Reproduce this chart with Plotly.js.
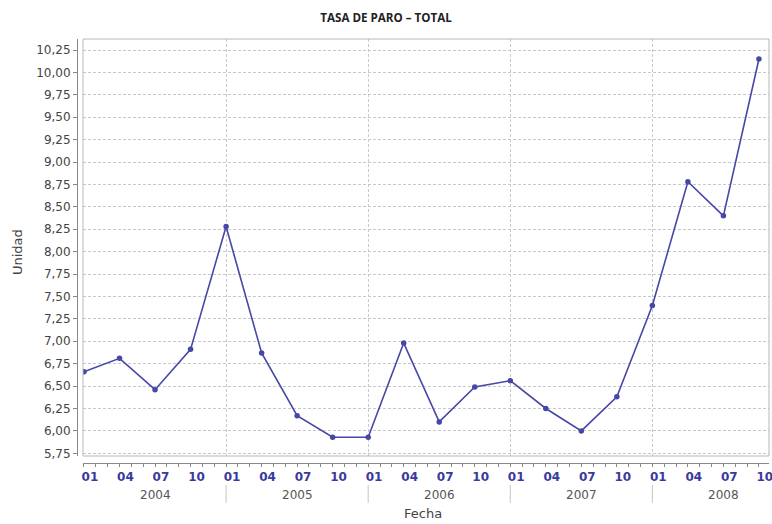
<!DOCTYPE html>
<html>
<head>
<meta charset="utf-8">
<script src="https://cdn.plot.ly/plotly-3.0.1.min.js"></script>
<style>html,body{margin:0;padding:0;background:#fff;}#chart{width:772px;height:524px;}</style>
</head>
<body>
<div id="chart"></div>
<script>
// ---- data ----
var years = ['2004', '2005', '2006', '2007', '2008'];
var quarterMonths = ['01', '04', '07', '10'];
var tasaParo = [6.66, 6.81, 6.46, 6.91, 8.28, 6.87, 6.17, 5.93, 5.93, 6.98,
                6.10, 6.49, 6.56, 6.25, 6.00, 6.38, 7.40, 8.78, 8.40, 10.15];

// month index since January of the first year
var xs = [], labels = [];
years.forEach(function (y, yi) {
  quarterMonths.forEach(function (m) {
    xs.push(yi * 12 + (parseInt(m, 10) - 1));
    labels.push(y + '-' + m);
  });
});
var monthTicks = [];
for (var i = 0; i < years.length * 12; i++) monthTicks.push(i);
var labelPos = xs.map(function (v) { return v + 0.5; });
var labelText = xs.map(function (v, i) { return quarterMonths[i % 4]; });
var yearStarts = years.slice(1).map(function (y, i) { return (i + 1) * 12; });

var xr = [-0.084, 57.85];
var lineCol = '#4747a6';

var trace = {
  x: xs, y: tasaParo, text: labels, type: 'scatter', mode: 'lines+markers',
  line: {color: lineCol, width: 1.6},
  marker: {color: lineCol, size: 5.5},
  hoverinfo: 'text+y', xaxis: 'x', yaxis: 'y'
};

var annotations = years.map(function (y, i) {
  return {x: i * 12 + 6, xref: 'x', y: -0.075, yref: 'paper', yanchor: 'middle',
          text: y, showarrow: false, font: {family: 'DejaVu Sans', size: 12, color: '#555'}};
});
annotations.push({x: 0.5, xref: 'paper', y: -0.12, yref: 'paper', yanchor: 'middle',
  text: 'Fecha', showarrow: false, font: {family: 'DejaVu Sans', size: 13, color: '#444'}});
annotations.push({x: -0.0867, xref: 'paper', y: 0.4976, yref: 'paper', xanchor: 'center', yanchor: 'middle',
  textangle: -90, text: 'Unidad', showarrow: false, font: {family: 'DejaVu Sans', size: 13, color: '#444'}});

var shapes = [{type: 'rect', xref: 'x domain', yref: 'y domain', x0: 0, x1: 1, y0: 0, y1: 1,
               line: {color: '#b8b8b8', width: 1}}];
yearStarts.forEach(function (v) {
  shapes.push({type: 'line', xref: 'x', yref: 'paper', x0: v, x1: v, y0: -0.052, y1: -0.094,
               line: {color: '#c4c4c4', width: 1}});
});

var layout = {
  width: 772, height: 524,
  margin: {l: 77, r: 3, t: 39, b: 61, pad: 0},
  paper_bgcolor: '#fff', plot_bgcolor: '#fff',
  separators: ',.',
  showlegend: false,
  title: {text: 'TASA DE PARO \u2013 TOTAL', x: 0.5, xref: 'container', xanchor: 'center',
          y: 0.9656, yref: 'container', yanchor: 'middle',
          font: {family: 'Open Sans', size: 11.6, color: '#222', weight: 700}},
  xaxis: {domain: [6 / 692, 1], range: xr, tickmode: 'array', tickvals: yearStarts,
          showticklabels: false, ticks: '', showline: false, zeroline: false,
          showgrid: true, gridcolor: '#c8c8c8', griddash: '3px,2px', gridwidth: 1},
  xaxis2: {overlaying: 'x', anchor: 'free', position: 0, range: xr, tickmode: 'array',
           tickvals: monthTicks, showticklabels: false, ticks: 'outside', ticklen: 3,
           tickcolor: '#888', showline: true, linecolor: '#888', linewidth: 1,
           showgrid: false, zeroline: false},
  xaxis3: {overlaying: 'x', anchor: 'free', position: 0, range: xr, tickmode: 'array',
           tickvals: labelPos, ticktext: labelText, ticks: 'outside', ticklen: 3,
           tickcolor: 'rgba(0,0,0,0)', showline: false, showgrid: false, zeroline: false,
           ticklabeloverflow: 'allow',
           tickfont: {family: 'DejaVu Sans', size: 12, color: '#3a3a9c', weight: 700}},
  yaxis: {domain: [7 / 424, 1], anchor: 'free', position: 0, range: [5.72, 10.373],
          tickmode: 'linear', tick0: 5.75, dtick: 0.25, tickformat: '.2f',
          ticks: 'outside', ticklen: 4, tickcolor: '#888',
          showline: true, linecolor: '#888', linewidth: 1, zeroline: false,
          showgrid: true, gridcolor: '#c8c8c8', griddash: '3px,2px', gridwidth: 1,
          tickfont: {family: 'DejaVu Sans', size: 12, color: '#444'}},
  annotations: annotations,
  shapes: shapes
};

// invisible traces to make overlay axes render
var t2 = {x: [xr[0]], y: [6], xaxis: 'x2', yaxis: 'y', mode: 'markers',
          marker: {opacity: 0}, hoverinfo: 'skip', type: 'scatter'};
var t3 = {x: [xr[0]], y: [6], xaxis: 'x3', yaxis: 'y', mode: 'markers',
          marker: {opacity: 0}, hoverinfo: 'skip', type: 'scatter'};

Plotly.newPlot('chart', [t2, t3, trace], layout, {displayModeBar: false, staticPlot: true});
</script>
</body>
</html>
